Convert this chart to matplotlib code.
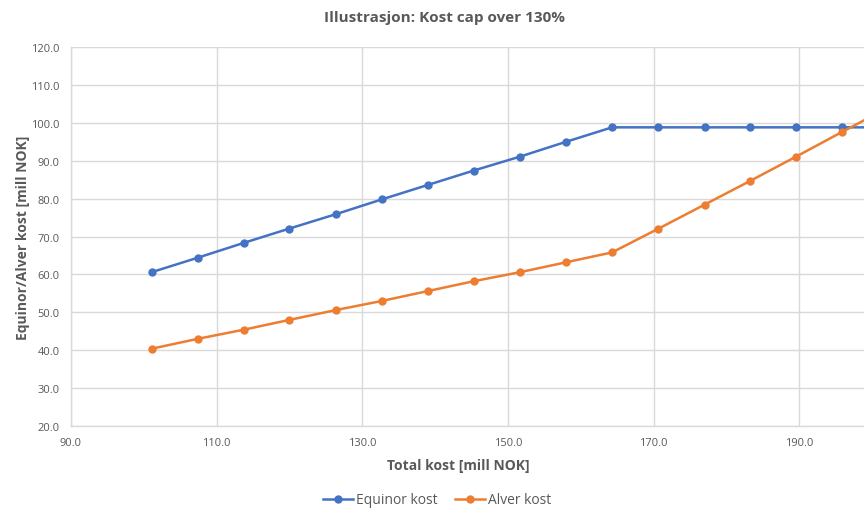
import numpy as np
import matplotlib.pyplot as plt

plt.rcParams['font.family'] = ['Open Sans', 'DejaVu Sans']

total_kost = [101.1, 107.4, 113.7, 120.0, 126.4, 132.7, 139.0, 145.3, 151.7,
              158.0, 164.3, 170.6, 177.0, 183.3, 189.6, 195.9, 202.2]
equinor_kost = [60.6, 64.4, 68.3, 72.1, 75.9, 79.8, 83.6, 87.4, 91.1,
                95.0, 98.8, 98.8, 98.8, 98.8, 98.8, 98.8, 98.8]
alver_kost = [40.4, 43.0, 45.4, 48.0, 50.6, 53.0, 55.6, 58.2, 60.6,
              63.2, 65.8, 72.0, 78.4, 84.7, 91.1, 97.6, 104.0]

blue = '#4472C4'
orange = '#ED7D31'
grid = '#D9D9D9'
txt = '#595959'

fig = plt.figure(figsize=(8.64, 5.1), dpi=100)
ax = fig.add_axes([71 / 864, 1 - 427 / 510, 1 - 71 / 864, (427 - 48) / 510])

ax.plot(total_kost, equinor_kost, color=blue, lw=1.8, marker='o', ms=5,
        label='Equinor kost', zorder=3)
ax.plot(total_kost, alver_kost, color=orange, lw=1.8, marker='o', ms=5,
        label='Alver kost', zorder=3)

ax.set_xlim(90, 198.9)
ax.set_ylim(20, 120)
ax.set_xticks(np.arange(90, 200, 20))
ax.set_yticks(np.arange(20, 121, 10))
ax.xaxis.set_major_formatter(lambda v, p: f'{v:.1f}')
ax.yaxis.set_major_formatter(lambda v, p: f'{v:.1f}')
ax.tick_params(length=0, labelsize=8, colors=txt, pad=8)
ax.grid(True, color=grid, lw=1)
ax.set_axisbelow(True)
for s in ['top', 'right']:
    ax.spines[s].set_visible(False)
for s in ['left', 'bottom']:
    ax.spines[s].set_color(grid)
    ax.spines[s].set_linewidth(1)

ax.set_xlabel('Total kost [mill NOK]', fontsize=10, fontweight='bold', color=txt)
ax.xaxis.set_label_coords((458 - 71) / (864 - 71), -0.085)
ax.set_ylabel('Equinor/Alver kost [mill NOK]', fontsize=10, fontweight='bold', color=txt)
ax.yaxis.set_label_coords(-0.052, 0.5)

fig.text(445 / 864, 1 - 18 / 510, 'Illustrasjon: Kost cap over 130%',
         ha='center', va='center', fontsize=11, fontweight='bold', color=txt)

fig.legend(loc='center', bbox_to_anchor=(437 / 864, 9 / 510), ncol=2,
           frameon=False, fontsize=10, labelcolor=txt, handlelength=2.2,
           columnspacing=1.2, handletextpad=0.2)

fig.savefig('out.png', dpi=100)
